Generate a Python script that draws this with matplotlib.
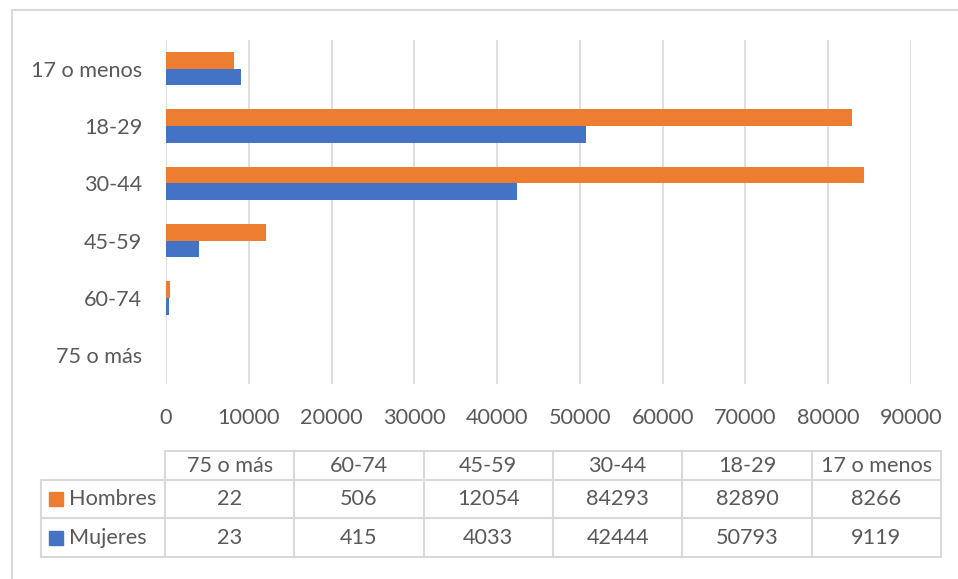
import matplotlib
matplotlib.use("Agg")
import matplotlib.pyplot as plt
from matplotlib.lines import Line2D
from matplotlib.patches import Rectangle
import numpy as np

# Data (table order: left to right; plot order: bottom to top)
categories = ["75 o más", "60-74", "45-59", "30-44", "18-29", "17 o menos"]
hombres = [22, 506, 12054, 84293, 82890, 8266]
mujeres = [23, 415, 4033, 42444, 50793, 9119]
series_names = ["Hombres", "Mujeres"]
xticks = [0, 10000, 20000, 30000, 40000, 50000, 60000, 70000, 80000, 90000]

orange = "#ED7D31"
blue = "#4472C4"
grid_c = "#D9D9D9"
txt_c = "#595959"

plt.rcParams['font.family'] = ['Lato', 'DejaVu Sans']
fs = 15.6

W, H = 958, 579
fig = plt.figure(figsize=(W / 100, H / 100), dpi=100)
fig.patch.set_facecolor("white")


def fx(x):
    return x / W


def fy(y):
    return 1 - y / H


# chart border (top and left visible)
fig.add_artist(Line2D([fx(12), fx(W)], [fy(10), fy(10)], color=grid_c, lw=1.5))
fig.add_artist(Line2D([fx(12), fx(12)], [fy(10), fy(H)], color=grid_c, lw=1.5))

# plot area
left, right, top, bottom = 166, 911, 40, 384
ax = fig.add_axes([fx(left), fy(bottom), fx(right - left), (bottom - top) / H])

y = np.arange(len(categories))
h = 0.29
ax.barh(y + h / 2, hombres, height=h, color=orange, label=series_names[0], zorder=3)
ax.barh(y - h / 2, mujeres, height=h, color=blue, label=series_names[1], zorder=3)

ax.set_xlim(0, 90000)
ax.set_ylim(-0.5, len(categories) - 0.5)
ax.set_xticks(xticks)
ax.set_xticklabels([str(t) for t in xticks])
ax.set_yticks(y)
ax.set_yticklabels(categories)
ax.grid(axis="x", color=grid_c, lw=1.2, zorder=0)
for s in ax.spines.values():
    s.set_visible(False)
ax.tick_params(axis="both", length=0, labelsize=fs, labelcolor=txt_c)
ax.tick_params(axis="x", pad=17)
ax.tick_params(axis="y", pad=17)

# data table
t_left, t_right = 165, 941
leg_left = 41
rows_y = [451, 480, 518, 557]
ncol = len(categories)
col_w = (t_right - t_left) / ncol
lw_t = 1.5

# horizontal lines
fig.add_artist(Line2D([fx(t_left), fx(t_right)], [fy(rows_y[0])] * 2, color=grid_c, lw=lw_t))
for ry in rows_y[1:]:
    fig.add_artist(Line2D([fx(leg_left), fx(t_right)], [fy(ry)] * 2, color=grid_c, lw=lw_t))
# vertical lines
fig.add_artist(Line2D([fx(leg_left)] * 2, [fy(rows_y[1]), fy(rows_y[3])], color=grid_c, lw=lw_t))
for i in range(ncol + 1):
    cx = t_left + i * col_w
    fig.add_artist(Line2D([fx(cx)] * 2, [fy(rows_y[0]), fy(rows_y[3])], color=grid_c, lw=lw_t))

# header + values
for i, cat in enumerate(categories):
    cx = t_left + (i + 0.5) * col_w
    fig.text(fx(cx), fy((rows_y[0] + rows_y[1]) / 2), cat, ha="center", va="center",
             fontsize=fs, color=txt_c)
    fig.text(fx(cx), fy((rows_y[1] + rows_y[2]) / 2), str(hombres[i]), ha="center",
             va="center", fontsize=fs, color=txt_c)
    fig.text(fx(cx), fy((rows_y[2] + rows_y[3]) / 2), str(mujeres[i]), ha="center",
             va="center", fontsize=fs, color=txt_c)

# legend keys in table
for k, (name, col) in enumerate(zip(series_names, [orange, blue])):
    cy = (rows_y[k + 1] + rows_y[k + 2]) / 2
    sq = 14
    fig.add_artist(Rectangle((fx(49), fy(cy + sq / 2)), sq / W, sq / H,
                             color=col, transform=fig.transFigure))
    fig.text(fx(69), fy(cy), name, ha="left", va="center", fontsize=fs, color=txt_c)

fig.savefig("out.png", dpi=100)
